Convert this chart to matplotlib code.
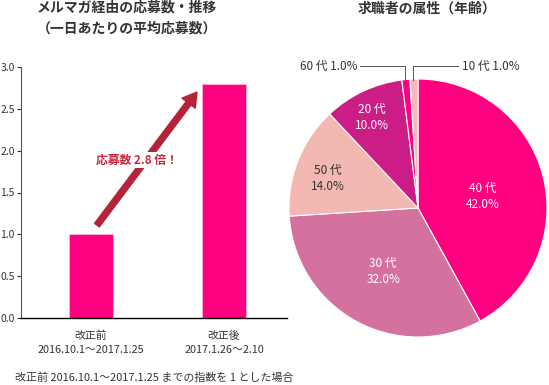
"""Mail-magazine applications chart and applicant age pie."""

import matplotlib

matplotlib.use("Agg")
import matplotlib.pyplot as plt
import numpy as np

plt.rcParams["font.family"] = ["Noto Sans CJK JP", "DejaVu Sans"]

# bar chart data
bar_categories = ["改正前\n2016.10.1～2017.1.25", "改正後\n2017.1.26～2.10"]
bar_values = [1.0, 2.8]
bar_title = "メルマガ経由の応募数・推移\n（一日あたりの平均応募数）"
bar_note = "応募数 2.8 倍！"
footnote = "改正前 2016.10.1～2017.1.25 までの指数を 1 とした場合"

# pie chart data (clockwise from top)
age_groups = ["40 代", "30 代", "50 代", "20 代", "60 代", "10 代"]
age_shares = [42.0, 32.0, 14.0, 10.0, 1.0, 1.0]
age_colors = ["#FF0080", "#D4719E", "#F3B8B2", "#CC1C86", "#FF0080", "#F5B8BC"]
pie_title = "求職者の属性（年齢）"

PINK = "#FF0080"
ARROW_RED = "#B5233A"
TEXT_GRAY = "#333333"

fig = plt.figure(figsize=(5.49, 3.85), dpi=100)

# ---- bar chart ----
ax = fig.add_axes([21 / 549, 67 / 385, 266 / 549, 251 / 385])
x = np.arange(len(bar_values))
ax.bar(x, bar_values, width=0.325, color=PINK, edgecolor="#FFC0DC", linewidth=0.5)
ax.set_xlim(-0.526, 1.474)
ax.set_ylim(0, 3.0)
ax.set_yticks(np.arange(0, 3.01, 0.5))
ax.set_yticklabels([f"{v:.1f}" for v in np.arange(0, 3.01, 0.5)])
ax.set_xticks(x)
ax.set_xticklabels(bar_categories, linespacing=1.5)
ax.tick_params(axis="x", length=0, pad=9, labelsize=7.8, labelcolor=TEXT_GRAY)
ax.tick_params(axis="y", length=3, width=0.8, pad=1.5, labelsize=7.5,
               labelcolor=TEXT_GRAY, color=TEXT_GRAY)
for side in ("top", "right"):
    ax.spines[side].set_visible(False)
ax.spines["left"].set_color("#555555")
ax.spines["left"].set_linewidth(0.8)
ax.spines["bottom"].set_color("black")
ax.spines["bottom"].set_linewidth(1.0)

ax.annotate(
    "",
    xy=(0.797, 2.70),
    xytext=(0.045, 1.11),
    arrowprops=dict(width=4.3, headwidth=12, headlength=10, color=ARROW_RED,
                    shrink=0),
)
ax.text(0.346, 1.89, bar_note, ha="center", va="center", fontsize=8.5,
        fontweight="bold", color="#C8283C",
        bbox=dict(boxstyle="square,pad=0.15", facecolor="white", edgecolor="none"))

fig.text(127 / 549, 1 - 18 / 385, bar_title, ha="center", va="center",
         fontsize=10, fontweight="bold", color=TEXT_GRAY, linespacing=1.55)
fig.text(15 / 549, 1 - 378 / 385, footnote, ha="left", va="center",
         fontsize=7.9, color=TEXT_GRAY)

# ---- pie chart ----
pax = fig.add_axes([289 / 549, 48 / 385, 258 / 549, 258 / 385])
wedges, _ = pax.pie(
    age_shares,
    colors=age_colors,
    startangle=90,
    counterclock=False,
    radius=1.0,
    wedgeprops=dict(edgecolor="white", linewidth=0.8),
)
pax.set_xlim(-1, 1)
pax.set_ylim(-1, 1)
pax.set_aspect("equal")
pax.axis("off")

inner_pos = {
    "40 代": (0.50, 0.09, "white"),
    "30 代": (-0.27, -0.49, "white"),
    "50 代": (-0.70, 0.23, TEXT_GRAY),
    "20 代": (-0.36, 0.70, "white"),
}
for name, share in zip(age_groups, age_shares):
    if name in inner_pos:
        px, py, col = inner_pos[name]
        pax.text(px, py, f"{name}\n{share:.1f}%", ha="center", va="center",
                 fontsize=8.5, color=col, linespacing=1.3)

# outside labels for the small slices
fig.text(329 / 549, 1 - 66 / 385, f"{age_groups[4]} {age_shares[4]:.1f}%",
         ha="center", va="center", fontsize=8.5, color=TEXT_GRAY)
fig.text(491 / 549, 1 - 66 / 385, f"{age_groups[5]} {age_shares[5]:.1f}%",
         ha="center", va="center", fontsize=8.5, color=TEXT_GRAY)
line_kw = dict(color="#555555", linewidth=0.7, transform=fig.transFigure)
fig.add_artist(plt.Line2D([360 / 549, 405 / 549, 405 / 549],
                          [1 - 66 / 385, 1 - 66 / 385, 1 - 82 / 385], **line_kw))
fig.add_artist(plt.Line2D([458 / 549, 413 / 549, 413 / 549],
                          [1 - 66 / 385, 1 - 66 / 385, 1 - 80 / 385], **line_kw))

fig.text(427 / 549, 1 - 9 / 385, pie_title, ha="center", va="center",
         fontsize=10, fontweight="bold", color=TEXT_GRAY)

fig.savefig("out.png", dpi=100)
